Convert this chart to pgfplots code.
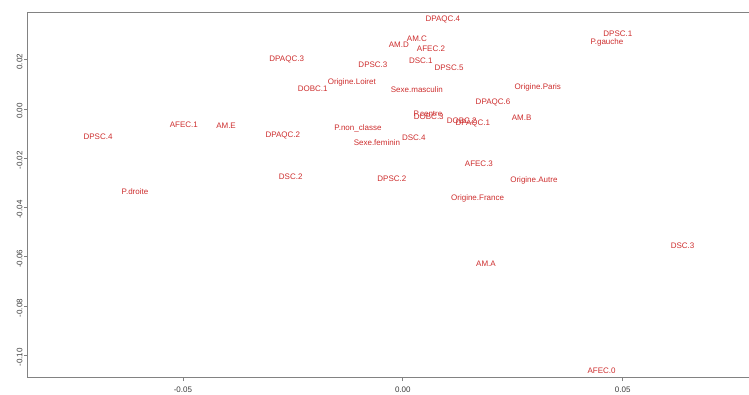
\documentclass[border=0pt]{standalone}
\usepackage{pgfplots}
\pgfplotsset{compat=1.18}
\usepackage{fontspec}
\setmainfont{Liberation Sans}
\definecolor{lbl}{RGB}{205,45,45}
\definecolor{axc}{RGB}{130,130,130}
\definecolor{tkc}{RGB}{60,60,60}
\begin{document}
\begin{tikzpicture}
\begin{axis}[
  scale only axis, width=545pt, height=273.75pt,
  xmin=-0.08523, xmax=0.08, ymin=-0.1088, ymax=0.0394,
  clip=false,
  axis line style={axc, line width=0.75pt},
  tick style={axc, line width=0.6pt},
  tick align=outside, major tick length=3pt,
  xtick={-0.05,0,0.05}, xticklabels={-0.05,0.00,0.05},
  ytick={-0.10,-0.08,-0.06,-0.04,-0.02,0,0.02},
  yticklabels={-0.10,-0.08,-0.06,-0.04,-0.02,0.00,0.02},
  ticklabel style={font=\fontsize{6}{7}\selectfont, text=tkc},
  yticklabel style={rotate=90, anchor=south, inner sep=1pt, xshift=-1.5pt},
  xticklabel style={anchor=north, inner sep=1pt, yshift=-3.2pt},
  xtick pos=bottom, ytick pos=left,
  every node near coord/.append style={anchor=center, font=\fontsize{6}{7}\selectfont, text=lbl, inner sep=0pt},
]
\addplot[only marks, mark=none, nodes near coords, point meta=explicit symbolic] coordinates {
(0.0091,0.0365) [DPAQC.4]
(0.0032,0.0284) [AM.C]
(-0.0009,0.0260) [AM.D]
(0.0064,0.0244) [AFEC.2]
(-0.0264,0.0203) [DPAQC.3]
(-0.0068,0.0179) [DPSC.3]
(0.0041,0.0195) [DSC.1]
(0.0105,0.0166) [DPSC.5]
(0.0489,0.0304) [DPSC.1]
(0.0464,0.0272) [P.gauche]
(-0.0116,0.0110) [Origine.Loiret]
(-0.0205,0.0081) [DOBC.1]
(0.0032,0.0077) [Sexe.masculin]
(0.0307,0.0089) [Origine.Paris]
(0.0205,0.0028) [DPAQC.6]
(0.0057,-0.0020) [P.centre]
(0.0059,-0.0032) [DOBC.3]
(0.0134,-0.0049) [DOBC.2]
(0.0159,-0.0057) [DPAQC.1]
(0.0270,-0.0037) [AM.B]
(-0.0693,-0.0114) [DPSC.4]
(-0.0498,-0.0065) [AFEC.1]
(-0.0402,-0.0069) [AM.E]
(-0.0102,-0.0077) [P.non\_classe]
(-0.0273,-0.0106) [DPAQC.2]
(0.0025,-0.0118) [DSC.4]
(-0.0059,-0.0138) [Sexe.feminin]
(0.0173,-0.0223) [AFEC.3]
(-0.0255,-0.0276) [DSC.2]
(-0.0025,-0.0284) [DPSC.2]
(0.0298,-0.0288) [Origine.Autre]
(0.0170,-0.0361) [Origine.France]
(-0.0609,-0.0337) [P.droite]
(0.0189,-0.0629) [AM.A]
(0.0636,-0.0556) [DSC.3]
(0.0452,-0.1063) [AFEC.0]
};
\end{axis}
\pgfresetboundingbox
\useasboundingbox (-21pt,-12.75pt) rectangle (540.75pt,282.75pt);
\end{tikzpicture}
\end{document}
